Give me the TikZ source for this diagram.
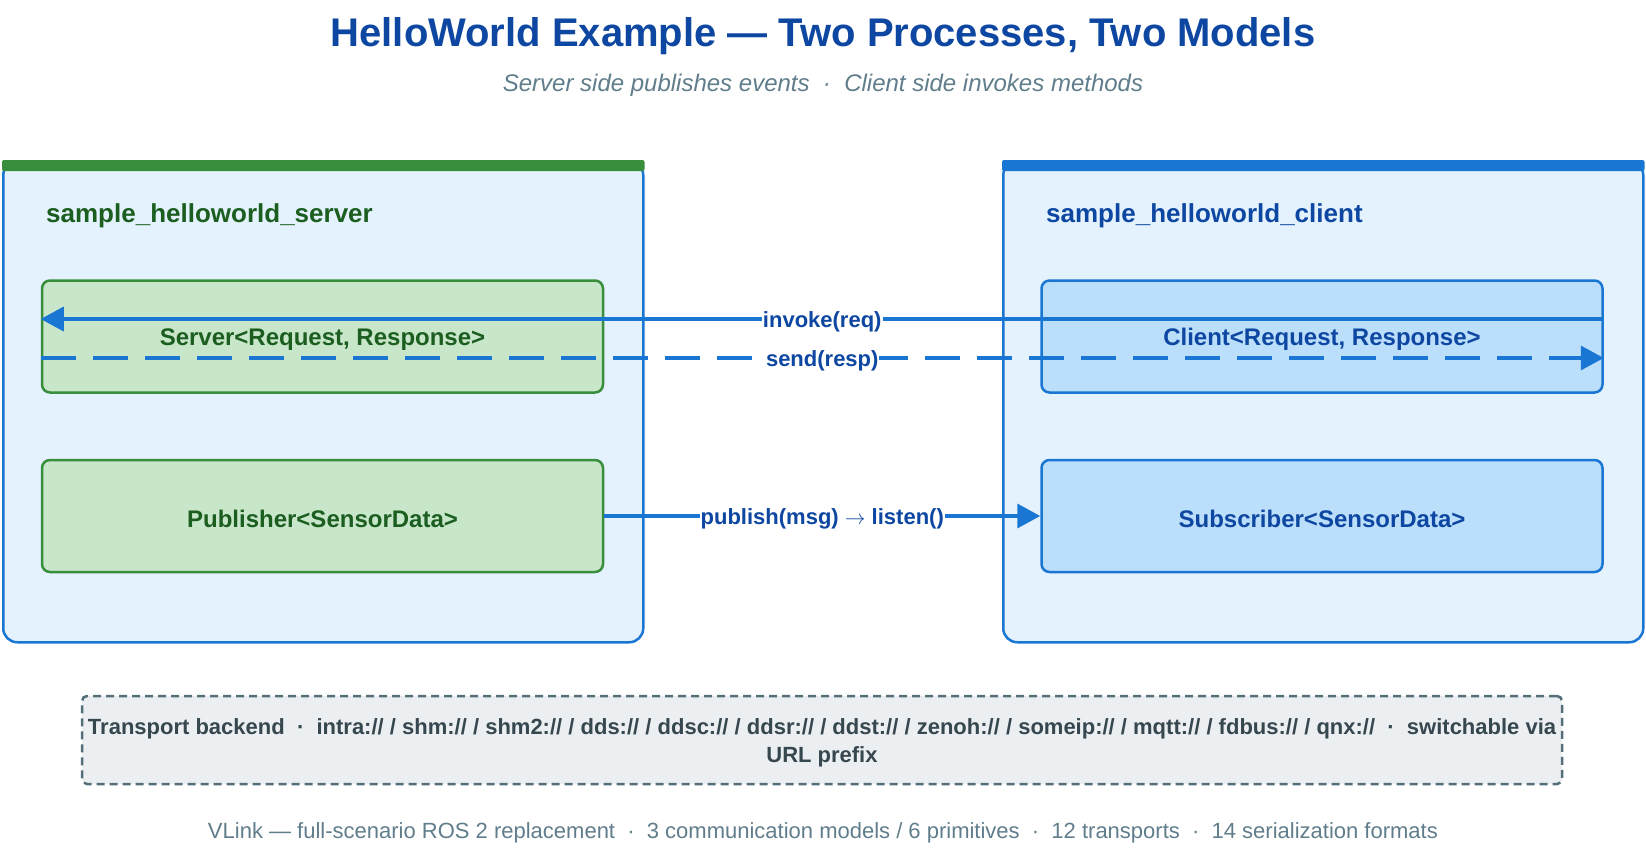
\documentclass[tikz,border=0pt]{standalone}
\usepackage{fontspec}
\setmainfont{Liberation Sans}
\usetikzlibrary{arrows.meta}

\definecolor{titleblue}{HTML}{0D47A1}
\definecolor{subgray}{HTML}{607D8B}
\definecolor{procfill}{HTML}{E3F2FD}
\definecolor{procline}{HTML}{1976D2}
\definecolor{srvgreen}{HTML}{388E3C}
\definecolor{srvfill}{HTML}{C8E6C9}
\definecolor{srvtext}{HTML}{1B5E20}
\definecolor{clifill}{HTML}{BBDEFB}
\definecolor{transfill}{HTML}{ECEFF1}
\definecolor{transline}{HTML}{546E7A}
\definecolor{transtext}{HTML}{37474F}

\newcommand{\lowered}[1]{\raisebox{-3pt}[\height][\depth]{#1}}

\tikzset{
  proc/.style={draw=procline, fill=procfill, line width=2.5pt, rounded corners=14pt,
    minimum width=640pt, minimum height=481pt, anchor=north west, inner sep=0pt},
  proctitle/.style={anchor=west, inner sep=0pt, font=\bfseries\fontsize{26}{30}\selectfont},
  srvbox/.style={draw=srvgreen, fill=srvfill, text=srvtext, line width=2.5pt, rounded corners=8pt,
    minimum width=561pt, minimum height=112pt, font=\bfseries\fontsize{24}{28}\selectfont},
  clibox/.style={srvbox, draw=procline, fill=clifill, text=titleblue},
  flow/.style={draw=procline, line width=3.5pt, -{Triangle[length=23pt,width=24pt]}},
  flowlbl/.style={fill=white, text=titleblue, inner sep=1pt, font=\bfseries\fontsize{22}{26}\selectfont}
}

\begin{document}
\begin{tikzpicture}[x=1pt, y=-1pt]
  \useasboundingbox (0,0) rectangle (1646,854);

  % title lines
  \node[text=titleblue, font=\bfseries\fontsize{40}{46}\selectfont] (title) at (823,36)
    {HelloWorld Example — Two Processes, Two Models};
  \node[text=subgray, font=\itshape\fontsize{24}{28}\selectfont] (subtitle) at (823,85)
    {Server side publishes events \ · \ Client side invokes methods};

  % the two processes
  \node[proc] (srvproc) at (2,160) {};
  \fill[srvgreen, rounded corners=2pt] (srvproc.north west) rectangle ([yshift=-11pt]srvproc.north east);
  \node[proctitle, text=srvtext] (srvname) at (46,216) {sample\_helloworld\_server};

  \node[proc] (cliproc) at (1002,160) {};
  \fill[procline, rounded corners=2pt] (cliproc.north west) rectangle ([yshift=-11pt]cliproc.north east);
  \node[proctitle, text=titleblue] (cliname) at (1046,216) {sample\_helloworld\_client};

  % endpoints
  \node[srvbox] (server) at (322.5,336.5) {\lowered{Server<Request, Response>}};
  \node[srvbox] (publisher) at (322.5,516) {\lowered{Publisher<SensorData>}};
  \node[clibox] (client) at (1322,336.5) {\lowered{Client<Request, Response>}};
  \node[clibox] (subscriber) at (1322,516) {\lowered{Subscriber<SensorData>}};

  % calls between them
  \draw[flow] ([yshift=17.5pt]client.east) -- ([yshift=17.5pt]server.west)
    node[flowlbl, midway] {\lowered{invoke(req)}};
  \draw[flow, dash pattern=on 35pt off 17pt] ([yshift=-21.5pt]server.west) -- ([yshift=-21.5pt]client.east)
    node[flowlbl, midway] {\lowered{send(resp)}};
  \draw[flow] (publisher.east) -- (subscriber.west)
    node[flowlbl, midway] {\lowered{publish(msg) $\rightarrow$ listen()}};

  % transport
  \node[draw=transline, fill=transfill, text=transtext, line width=2.5pt, dash pattern=on 8pt off 5pt,
    rounded corners=5pt, minimum width=1480pt, minimum height=88pt,
    font=\bfseries\fontsize{22}{28}\selectfont] (transport) at (822,740)
    {\lowered{\begin{tabular}{@{}c@{}}Transport backend \ · \ intra:// / shm:// / shm2:// / dds:// / ddsc:// / ddsr:// / ddst:// / zenoh:// / someip:// / mqtt:// / fdbus:// / qnx:// \ · \ switchable via\\URL prefix\end{tabular}}};

  \node[text=subgray, font=\fontsize{22}{26}\selectfont] (footer) at (823,833)
    {VLink — full-scenario ROS 2 replacement \ · \ 3 communication models / 6 primitives \ · \ 12 transports \ · \ 14 serialization formats};
\end{tikzpicture}
\end{document}
